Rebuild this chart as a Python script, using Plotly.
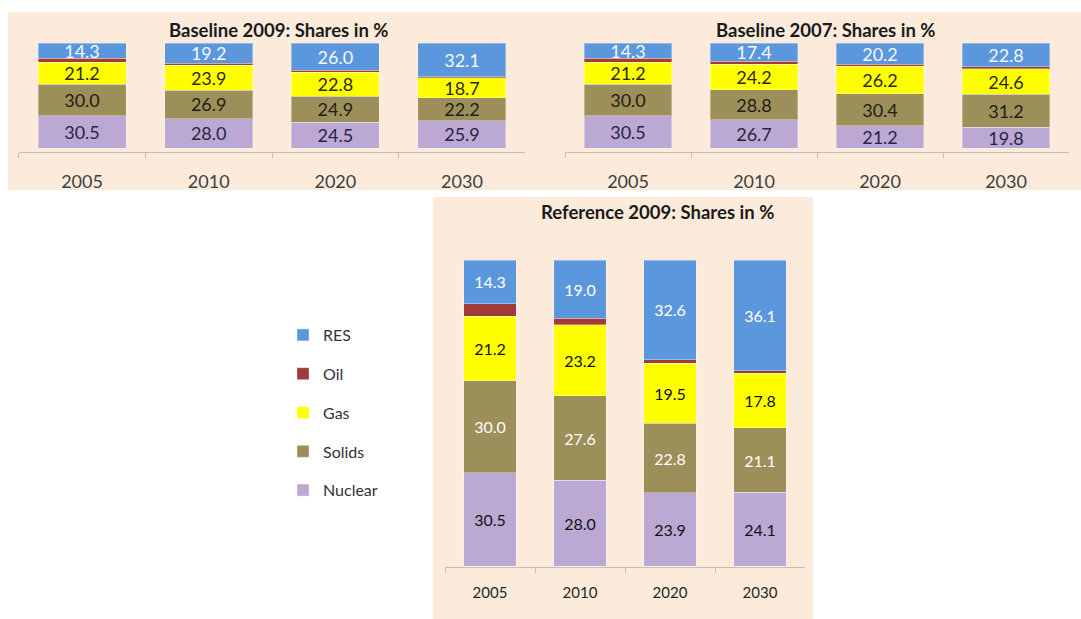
import plotly.graph_objects as go

years = ["2005", "2010", "2020", "2030"]
fuels = ["Nuclear", "Solids", "Gas", "Oil", "RES"]
legend_rank = {"RES": 1, "Oil": 2, "Gas": 3, "Solids": 4, "Nuclear": 5}
colors = {"RES": "#5B97DC", "Oil": "#A13A3A", "Gas": "#FFFF00",
          "Solids": "#9C8F59", "Nuclear": "#BBA9D4"}

# Baseline 2009 shares (%)
b09_nuclear = [30.5, 28.0, 24.5, 25.9]
b09_solids = [30.0, 26.9, 24.9, 22.2]
b09_gas = [21.2, 23.9, 22.8, 18.7]
b09_oil = [4.0, 2.0, 1.8, 1.1]
b09_res = [14.3, 19.2, 26.0, 32.1]

# Baseline 2007 shares (%)
b07_nuclear = [30.5, 26.7, 21.2, 19.8]
b07_solids = [30.0, 28.8, 30.4, 31.2]
b07_gas = [21.2, 24.2, 26.2, 24.6]
b07_oil = [4.0, 2.9, 2.0, 1.6]
b07_res = [14.3, 17.4, 20.2, 22.8]

# Reference 2009 shares (%)
r09_nuclear = [30.5, 28.0, 23.9, 24.1]
r09_solids = [30.0, 27.6, 22.8, 21.1]
r09_gas = [21.2, 23.2, 19.5, 17.8]
r09_oil = [4.0, 2.2, 1.2, 0.9]
r09_res = [14.3, 19.0, 32.6, 36.1]

panels = [
    ("x", "y", {"Nuclear": b09_nuclear, "Solids": b09_solids, "Gas": b09_gas, "Oil": b09_oil, "RES": b09_res}, False),
    ("x2", "y2", {"Nuclear": b07_nuclear, "Solids": b07_solids, "Gas": b07_gas, "Oil": b07_oil, "RES": b07_res}, False),
    ("x3", "y3", {"Nuclear": r09_nuclear, "Solids": r09_solids, "Gas": r09_gas, "Oil": r09_oil, "RES": r09_res}, True),
]

FONT = "Lato, Liberation Sans, sans-serif"

top_text_colors = {"RES": "#F4F8FF", "Oil": "rgba(0,0,0,0)", "Gas": "#2A2A10",
                   "Solids": "#1E1E14", "Nuclear": "#2A2440"}
bot_text_colors = {"RES": "#FFFFFF", "Oil": "rgba(0,0,0,0)", "Gas": "#111111",
                   "Solids": "#FFFFFF", "Nuclear": "#111111"}

fig = go.Figure()
for xa, ya, data, main in panels:
    tc = bot_text_colors if main else top_text_colors
    for f in fuels:
        vals = data[f]
        fig.add_trace(go.Bar(
            x=years, y=vals, name=f, xaxis=xa, yaxis=ya,
            width=0.58 if main else 0.695,
            marker=dict(color=colors[f], line=dict(color="rgba(255,255,255,0.35)", width=1)),
            text=[("" if f == "Oil" else f"{v:.1f}") for v in vals],
            textposition="inside", insidetextanchor="middle", textangle=0,
            constraintext="none",
            textfont=dict(family=FONT, size=16 if main else 18, color=tc[f]),
            legendgroup=f, legendrank=legend_rank[f], showlegend=main, hoverinfo="skip",
        ))

W, H = 1081, 619
def px(v):
    return v / W
def py(v):
    return 1 - v / H

xcommon = dict(type="category", showline=True, linecolor="#BFBFBF", linewidth=1,
               ticks="outside", tickson="boundaries", ticklen=5, tickcolor="#BFBFBF",
               showgrid=False, zeroline=False, fixedrange=True)

fig.update_layout(
    width=W, height=H,
    margin=dict(l=0, r=0, t=0, b=0),
    paper_bgcolor="white", plot_bgcolor="rgba(0,0,0,0)",
    barmode="stack",
    font=dict(family=FONT, color="#333333"),
    xaxis=dict(domain=[px(18.7), px(525.3)], anchor="y", range=[-0.5, 3.5],
               tickfont=dict(size=18, color="#404040"), ticklabelstandoff=13, **xcommon),
    yaxis=dict(domain=[py(152), py(43)], anchor="x", range=[-3.8, 100], visible=False, fixedrange=True),
    xaxis2=dict(domain=[px(565), px(1069)], anchor="y2", range=[-0.5, 3.5],
                tickfont=dict(size=18, color="#404040"), ticklabelstandoff=13, **xcommon),
    yaxis2=dict(domain=[py(152), py(43)], anchor="x2", range=[-3.8, 100], visible=False, fixedrange=True),
    xaxis3=dict(domain=[px(445), px(805)], anchor="y3", range=[-0.5, 3.5],
                tickfont=dict(size=15, color="#262626"), ticklabelstandoff=12, **xcommon),
    yaxis3=dict(domain=[py(567), py(260)], anchor="x3", range=[-0.3, 100], visible=False, fixedrange=True),
    legend=dict(x=px(283), y=py(318), xanchor="left", yanchor="top",
                traceorder="grouped", tracegroupgap=15,
                font=dict(size=16, color="#333333"), bgcolor="rgba(0,0,0,0)",
                itemclick=False, itemdoubleclick=False),
    shapes=[
        dict(type="rect", xref="paper", yref="paper", x0=px(8), x1=px(1081), y0=py(190), y1=py(12),
             fillcolor="#FCEADB", line=dict(width=0), layer="below"),
        dict(type="rect", xref="paper", yref="paper", x0=px(433), x1=px(813), y0=py(619), y1=py(197),
             fillcolor="#FCEADB", line=dict(width=0), layer="below"),
    ],
    annotations=[
        dict(text="<b>Baseline 2009: Shares in %</b>", x=px(278), y=py(30), xref="paper", yref="paper",
             xanchor="center", yanchor="middle", showarrow=False, font=dict(size=18.5, color="#1A1A1A")),
        dict(text="<b>Baseline 2007: Shares in %</b>", x=px(825), y=py(30), xref="paper", yref="paper",
             xanchor="center", yanchor="middle", showarrow=False, font=dict(size=18.5, color="#1A1A1A")),
        dict(text="<b>Reference 2009: Shares in %</b>", x=px(657), y=py(212), xref="paper", yref="paper",
             xanchor="center", yanchor="middle", showarrow=False, font=dict(size=18.5, color="#1A1A1A")),
    ],
)

fig.write_html("out.html", config={"displayModeBar": False, "staticPlot": True},
               post_script="document.body.style.margin='0';")
